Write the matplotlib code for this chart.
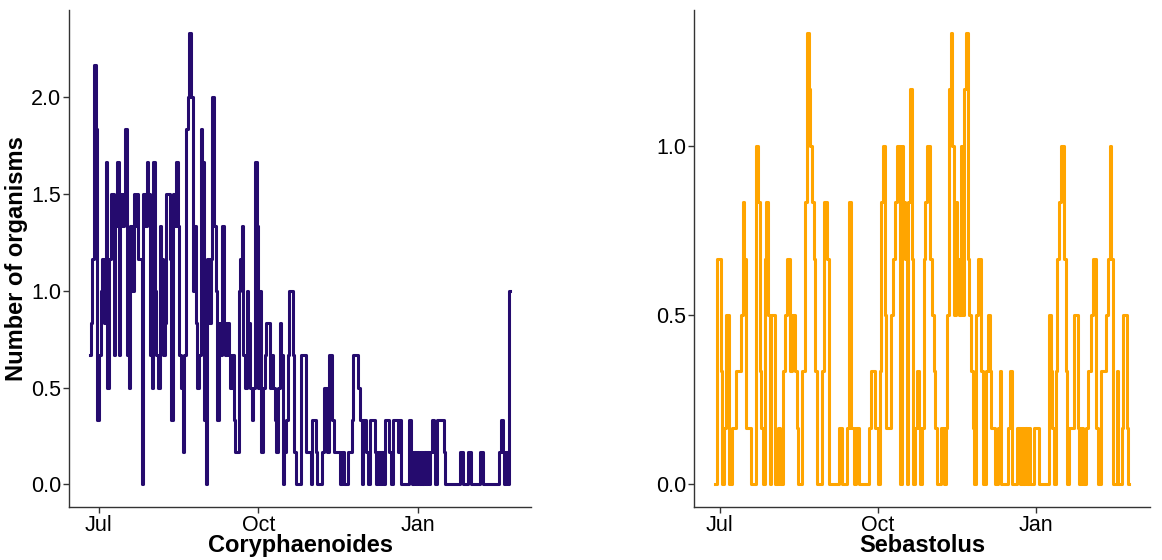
import numpy as np
import pandas as pd
import matplotlib
matplotlib.use("Agg")
from matplotlib import pyplot as plt
import matplotlib.dates as mdates

plt.rcParams['font.family'] = ['Liberation Sans', 'DejaVu Sans']

# counts in sixths (value = count / 6)
cory_counts = [
    4, 5, 7, 13, 11, 2, 4, 6, 7, 5, 10, 3, 7, 9, 9, 4, 8, 10, 4, 9,
    8, 9, 11, 4, 3, 8, 6, 9, 8, 9, 7, 7, 0, 9, 8, 10, 9, 4, 3, 10,
    6, 4, 3, 8, 7, 4, 5, 9, 9, 7,
    2, 9, 8, 10, 8, 4, 3, 1, 4, 11, 12, 14, 12, 6, 8, 5, 3, 4, 11, 10,
    2, 0, 7, 5, 7, 12, 8, 6, 2, 5, 4, 8, 5, 4, 5, 4, 3, 4, 2, 1,
    1, 6, 7, 8, 4, 3, 6, 5, 3, 2, 3, 10, 8, 3,
    6, 1, 3, 4, 5, 5, 3, 4, 3, 2, 1, 3, 5, 4, 0, 1, 2, 4, 6, 6,
    4, 1, 0, 0, 0, 4, 4, 4, 1, 1, 1, 0, 2, 2, 1, 0, 0, 0, 1, 3,
    3, 1, 4, 4,
    2, 1, 1, 1, 1, 0, 1, 0, 0, 0, 1, 1, 2, 4, 4, 4, 3, 2, 0, 2,
    2, 1, 0, 2, 2, 2, 1, 0, 1, 0, 1, 0, 2, 2, 2, 1, 0, 2, 2, 2,
    1, 2, 0, 0, 0, 0, 0, 2, 1, 0, 1, 0, 1, 0, 1, 0, 1, 0, 1, 0,
    1, 2, 1, 0, 2, 2, 2, 2, 1, 0, 0, 0, 0, 0, 0, 0, 0, 0, 1, 1,
    0, 0, 0, 1, 1, 0, 0, 0, 0, 0, 1, 1, 0, 0, 0, 0, 0, 0, 0, 0,
    0, 0, 1, 2, 1, 0, 1, 0, 6,
]

seba_counts = [
    0, 0, 4, 4, 2, 0, 1, 3, 3, 0, 0, 1, 1, 2, 2, 2, 3, 5, 4, 1,
    1, 1, 0, 0, 0, 6, 5, 2, 1, 0, 4, 5, 3, 0, 3, 3, 0, 0, 1, 0,
    0, 2, 3, 4, 4, 2, 3, 3, 2, 1, 0, 0, 2, 2, 5, 8, 7, 6, 5, 4,
    2, 0, 0, 0, 2, 5, 5, 4, 0, 0,
    0, 0, 0, 0, 1, 1, 0, 0, 0, 1, 5, 1, 1, 0, 1, 1, 0, 0, 0, 0,
    0, 0, 1, 2, 2, 1, 1, 0, 2, 5, 6, 3, 1, 1, 1, 3, 4, 5, 6, 6,
    0, 6, 5, 4, 0, 5, 7, 4, 0, 1, 2, 1, 0, 1, 4, 5, 6, 6, 4, 3,
    2, 1, 0, 0, 1, 1, 0, 1, 3, 7, 8, 6, 3, 5, 4, 3, 6, 3, 7, 8,
    4, 3, 2, 1, 0, 3, 4, 4,
    2, 0, 0, 2, 3, 2, 1, 1, 0, 0, 1, 2, 0, 0, 0, 0, 1, 2, 0, 0,
    0, 1, 1, 0, 1, 0, 1, 0, 1, 0, 0, 1, 1, 1, 0, 0, 0, 0, 0, 0,
    3, 2, 1, 0, 2, 4, 5, 6, 6, 4, 2, 0, 1, 1, 1, 3, 3, 1, 0, 1,
    0, 0, 1, 2, 2, 3, 4, 4, 1, 0, 0, 2, 2, 2, 3, 4, 6, 4, 0, 0,
    2, 0, 0, 1, 3, 3, 1, 0,
]

cory_start, cory_end = "2018-06-26", "2019-02-23"
seba_start, seba_end = "2018-06-28", "2019-02-24"

cory_vals = np.array(cory_counts) / 6
seba_vals = np.array(seba_counts) / 6
cory_time = pd.date_range(cory_start, cory_end, periods=len(cory_vals))
seba_time = pd.date_range(seba_start, seba_end, periods=len(seba_vals))

fig = plt.figure(figsize=(11.62, 5.6), dpi=100)
ax1 = fig.add_axes([0.0594, 0.0946, 0.3976, 0.8875])
ax2 = fig.add_axes([0.5972, 0.0946, 0.3924, 0.8875])

ax1.plot(cory_time, cory_vals, color='#250B6E', linewidth=2.2, drawstyle='steps-mid')
ax2.plot(seba_time, seba_vals, color='#FFA500', linewidth=2.2, drawstyle='steps-mid')

for ax, name, yt in [(ax1, "Coryphaenoides", [0, 0.5, 1.0, 1.5, 2.0]),
                     (ax2, "Sebastolus", [0, 0.5, 1.0])]:
    ax.margins(x=0.05, y=0.05)
    ax.xaxis.set_major_locator(mdates.MonthLocator(bymonth=[1, 7, 10]))
    ax.xaxis.set_major_formatter(mdates.DateFormatter('%b'))
    ax.set_yticks(yt)
    ax.set_yticklabels([f"{v:.1f}" for v in yt])
    ax.spines['top'].set_visible(False)
    ax.spines['right'].set_visible(False)
    for s in ['left', 'bottom']:
        ax.spines[s].set_color('#333333')
        ax.spines[s].set_linewidth(1.0)
    ax.tick_params(axis='both', labelsize=15.5, colors='#333333', labelcolor='black',
                   length=4, width=1.0, pad=1.5)
    ax.set_xlabel(name, fontsize=17, fontweight='bold', labelpad=-1)

ax1.set_ylabel("Number of organisms", fontsize=17, fontweight='bold', labelpad=2)

fig.savefig("out.png", dpi=100)
